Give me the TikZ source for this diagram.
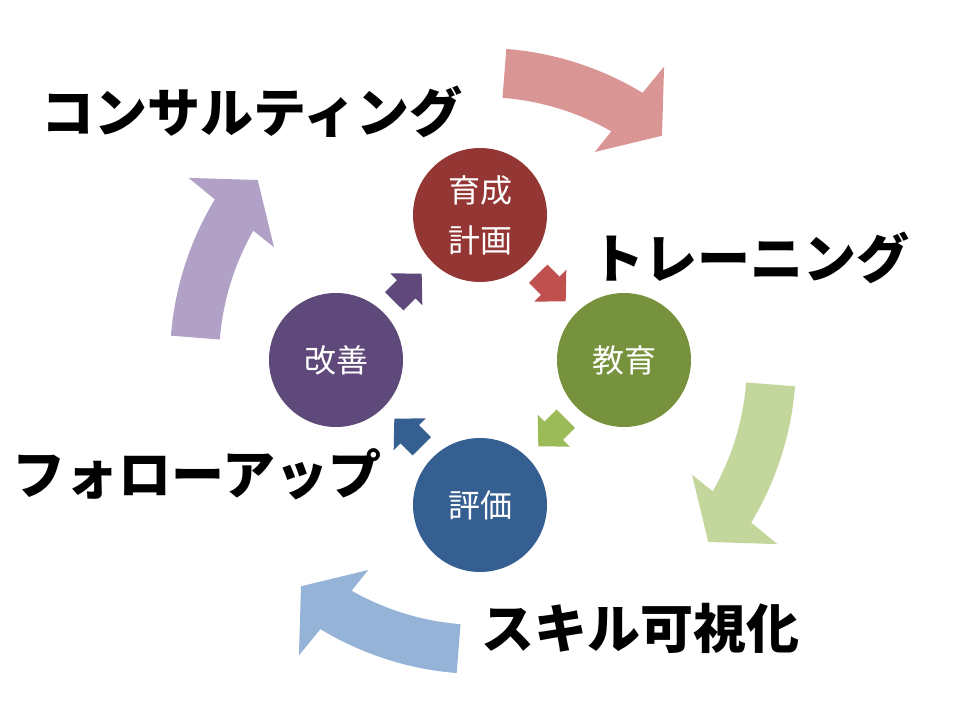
\documentclass[tikz,border=0pt]{standalone}
\usepackage{fontspec}
\newfontfamily\jpfont{Noto Sans CJK JP}
\usepackage{tikz}
\usetikzlibrary{arrows.meta,calc}
\definecolor{planred}{HTML}{943634}
\definecolor{edugreen}{HTML}{76923C}
\definecolor{evalblue}{HTML}{365F91}
\definecolor{fixpurple}{HTML}{5F497A}
\definecolor{hopred}{HTML}{C0504D}
\definecolor{hopgreen}{HTML}{9BBB59}
\definecolor{wavepink}{HTML}{D99694}
\definecolor{wavegreen}{HTML}{C3D69B}
\definecolor{waveblue}{HTML}{95B3D7}
\definecolor{wavepurple}{HTML}{B2A1C7}
\tikzset{
  % --- cycle stages ----------------------------------------------------------
  stage/.style={circle,minimum size=134pt,inner sep=0pt,text=white,
                font=\jpfont\fontsize{32}{50}\selectfont,align=center},
  stageplan/.style={stage,fill=planred},
  stageedu/.style={stage,fill=edugreen},
  stageeval/.style={stage,fill=evalblue},
  stagefix/.style={stage,fill=fixpurple},
  % --- short block arrows between stages -------------------------------------
  hop/.style={line width=26pt,shorten <=15.5pt,shorten >=15.5pt,
              -{Triangle[length=22pt,width=44pt]}},
  % --- outer curved arrows (drawn round the hub, rotated per phase) ----------
  wave/.pic={
    \path[pic actions] (85.5:310) arc[start angle=85.5,end angle=58.8,radius=310]
      -- (58:343.6) -- (51:286) -- (61.3:234.9) -- (60.3:261)
      arc[start angle=60.3,end angle=85.5,radius=261] -- cycle;},
  phase/.style={font=\jpfont\bfseries\fontsize{53}{60}\selectfont,inner sep=0pt},
}
\begin{document}
\begin{tikzpicture}[x=1pt, y=1pt]
  \fill[white] (0,0) rectangle (960,720);
  \useasboundingbox (0,0) rectangle (960,720);
  \coordinate (hub) at (480,360);

  \pic[fill=wavepink]   at (482,362) {wave};
  \pic[fill=wavegreen,rotate=-90]  at (486,358) {wave};
  \pic[fill=waveblue,rotate=-180]  at (481,356) {wave};
  \pic[fill=wavepurple,rotate=90]  at (hub) {wave};

  \node[stageplan] (plan) at (480,505) {育成\\計画};
  \node[stageedu]  (edu)  at (624,360) {教育};
  \node[stageeval] (eval) at (480,215) {評価};
  \node[stagefix]  (fix)  at (336,360) {改善};

  \draw[hop,color=hopred]    (plan) -- (edu);
  \draw[hop,color=hopgreen]  (edu)  -- (eval);
  \draw[hop,color=evalblue]  (eval) -- (fix);
  \draw[hop,color=fixpurple] (fix)  -- (plan);

  \node[phase] (consult) at (252,608) {コンサルティング};
  \node[phase] (train)   at (750,462) {トレーニング};
  \node[phase] (follow)  at (197,246) {フォローアップ};
  \node[phase] (skill)   at (640,92)  {スキル可視化};
\end{tikzpicture}
\end{document}
